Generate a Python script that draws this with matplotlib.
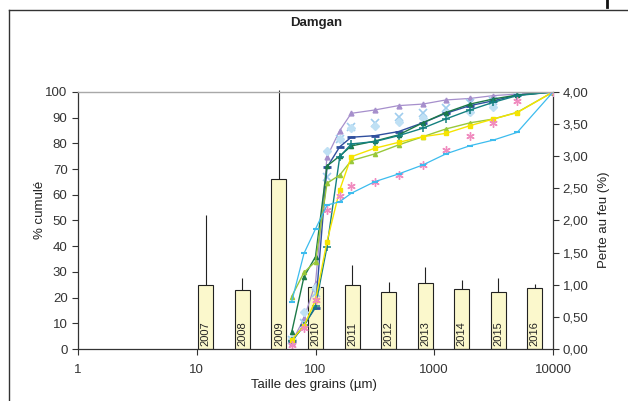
import numpy as np
import matplotlib
matplotlib.use('Agg')
import matplotlib.pyplot as plt
from matplotlib.lines import Line2D

plt.rcParams['font.family'] = ['Liberation Sans', 'DejaVu Sans']

# tamis (µm)
sizes = [63, 80, 100, 125, 160, 200, 315, 500, 800, 1250, 2000, 3150, 5000, 10000]

# % cumulé par campagne
s_purple = [2.5, 11.9, 25.6, 74.8, 85.0, 91.7, 93.0, 94.7, 95.3, 96.9, 97.5, 98.6, 99.2, 100]
s_lblue_x = [3.5, 10.0, 21.8, 67.0, 81.7, 86.5, 88.0, 90.1, 92.0, 93.9, 95.8, 96.5, 99.6, 100]
s_lblue_d = [4.0, 14.3, 24.0, 77.0, 81.6, 86.0, 86.8, 88.5, 89.7, 91.7, 92.4, 94.0, 99.6, 100]
s_dblue = [3.0, 9.3, 16.1, 70.7, 78.7, 82.4, 83.0, 84.6, 88.0, 91.7, 94.7, 96.6, 98.8, 100]
s_dgreen = [6.5, 28.1, 35.9, 71.2, 75.1, 79.0, 80.9, 83.3, 88.0, 92.0, 95.3, 97.3, 98.8, 100]
s_teal = [3.0, 9.0, 16.7, 39.8, 74.8, 79.8, 80.7, 83.0, 85.9, 89.5, 93.0, 96.0, 98.6, 100]
s_ygreen = [20.4, 29.8, 34.0, 64.5, 67.7, 73.3, 75.9, 79.4, 82.6, 85.6, 88.0, 89.5, 92.1, 100]
s_yellow = [3.5, 9.0, 19.0, 41.8, 61.9, 74.8, 78.1, 80.4, 82.6, 83.9, 86.9, 89.5, 92.0, 100]
s_pink = [1.5, 8.2, 19.0, 54.1, 59.5, 63.4, 65.1, 67.7, 71.6, 77.4, 82.9, 87.8, 96.6, 100]
s_cyan = [18.4, 37.2, 46.7, 56.0, 57.3, 60.6, 65.1, 68.1, 71.6, 75.9, 79.1, 81.3, 84.3, 100]

# perte au feu (%)
years = ['2007', '2008', '2009', '2010', '2011', '2012', '2013', '2014', '2015', '2016']
loi = [1.00, 0.92, 2.65, 0.97, 1.00, 0.89, 1.03, 0.94, 0.89, 0.955]
loi_top = [2.08, 1.11, 4.03, 0.97, 1.30, 1.05, 1.28, 1.08, 1.11, 1.01]

fig = plt.figure(figsize=(6.28, 4.01), dpi=100)
pos = [78 / 628, 1 - 349 / 401, 475 / 628, 257 / 401]

# axe des barres (categories) + axe secondaire
axb = fig.add_axes(pos)
xb = np.arange(len(years))
axb.bar(xb, loi, width=0.41, color='#fbf8cc', edgecolor='#222222', linewidth=0.8)
axb.errorbar(xb, loi, yerr=[np.zeros(len(loi)), np.array(loi_top) - np.array(loi)],
             fmt='none', ecolor='#222222', elinewidth=0.8, capsize=0, clip_on=False)
for i, y in enumerate(years):
    axb.text(i, 0.05, y, rotation=90, ha='center', va='bottom', fontsize=8, color='#222222')
axb.set_xlim(-3.5, 9.5)
axb.set_ylim(0, 4)
axb.set_xticks([])
axb.yaxis.tick_right()
axb.set_yticks(np.arange(0, 4.01, 0.5))
axb.set_yticklabels([('%.2f' % v).replace('.', ',') for v in np.arange(0, 4.01, 0.5)])
axb.tick_params(axis='y', direction='out', length=4, width=0.8, colors='#333333', labelsize=9.5, pad=3)
for side in ['top', 'left', 'bottom']:
    axb.spines[side].set_visible(False)
axb.spines['right'].set_color('#333333')
axb.spines['right'].set_linewidth(0.9)

# axe principal (courbes granulometriques)
ax = fig.add_axes(pos)
ax.set_zorder(2)
ax.patch.set_visible(False)

ax.plot(sizes, s_purple, color='#a68fcc', marker='^', ms=3.5, lw=0.9)
ax.plot(sizes, s_lblue_x, color='#9fcdee', marker='x', ms=6, lw=0, mew=1.2)
ax.plot(sizes, s_lblue_d, color='#bfe0f4', marker='D', ms=4, lw=0)
ax.plot(sizes, s_dblue, color='#2f4f9e', marker='_', ms=6, mew=2, lw=1.0)
ax.plot(sizes, s_dgreen, color='#1c7a48', marker='^', ms=3, lw=1.0)
ax.plot(sizes, s_teal, color='#148080', marker='+', ms=6, mew=1.1, lw=1.0)
ax.plot(sizes, s_ygreen, color='#99c83a', marker='^', ms=3, lw=1.0)
ax.plot(sizes, s_yellow, color='#f5e400', marker='s', ms=3.5, lw=1.0)
ax.plot(sizes, s_pink, color='#f08cbf', marker=(6, 2, 0), ms=6, mew=1.0, lw=0)
ax.plot(sizes, s_cyan, color='#3cbcee', marker='_', ms=5, mew=1.5, lw=0.9)

ax.set_xscale('log')
ax.set_xlim(1, 10000)
ax.set_ylim(0, 100)
ax.set_xticks([1, 10, 100, 1000, 10000])
ax.set_xticklabels(['1', '10', '100', '1000', '10000'])
ax.xaxis.set_minor_locator(matplotlib.ticker.NullLocator())
ax.set_yticks(np.arange(0, 101, 10))
ax.tick_params(axis='both', direction='out', length=4, width=0.8, colors='#333333', labelsize=9.5)
ax.tick_params(axis='x', pad=7)
ax.spines['right'].set_visible(False)
ax.spines['top'].set_color('#a8a8a8')
ax.spines['top'].set_linewidth(1.0)
for side in ['left', 'bottom']:
    ax.spines[side].set_color('#333333')
    ax.spines[side].set_linewidth(0.9)

fig.text(316 / 628, 1 - 23 / 401, 'Damgan', ha='center', va='center', fontsize=9.5, fontweight='bold', color='#222222')
fig.text(40 / 628, 1 - 210 / 401, '% cumulé', rotation=90, ha='center', va='center', fontsize=9.5, color='#222222')
fig.text(604 / 628, 1 - 220 / 401, 'Perte au feu (%)', rotation=90, ha='center', va='center', fontsize=9.5, color='#222222')
fig.text(314 / 628, 1 - 385 / 401, 'Taille des grains (µm)', ha='center', va='center', fontsize=9.5, color='#222222')

# cadre du graphique
fig.add_artist(Line2D([9 / 628, 9 / 628], [0, 1 - 10 / 401], color='#333333', lw=1.0))
fig.add_artist(Line2D([9 / 628, 1], [1 - 10 / 401, 1 - 10 / 401], color='#333333', lw=1.0))
fig.add_artist(Line2D([607 / 628, 607 / 628], [1 - 7 / 401, 1], color='#111111', lw=2.0))

fig.savefig('out.png', dpi=100)
